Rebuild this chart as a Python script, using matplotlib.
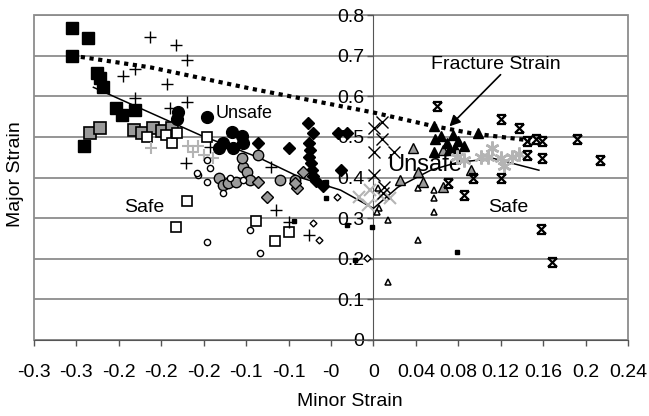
import numpy as np
import matplotlib
matplotlib.use('Agg')
import matplotlib.pyplot as plt
from matplotlib.path import Path
from matplotlib.patches import Rectangle

plt.rcParams['font.family'] = ['Liberation Sans', 'DejaVu Sans']

# tick values and their (Excel-style) labels
x_ticks = [-0.32, -0.28, -0.24, -0.20, -0.16, -0.12, -0.08, -0.04, 0,
           0.04, 0.08, 0.12, 0.16, 0.20, 0.24]
x_tick_labels = ['-0.3', '-0.3', '-0.2', '-0.2', '-0.2', '-0.1', '-0.1', '-0',
                 '0', '0.04', '0.08', '0.12', '0.16', '0.2', '0.24']
y_ticks = [0, 0.1, 0.2, 0.3, 0.4, 0.5, 0.6, 0.7, 0.8]
y_tick_labels = ['0', '0.1', '0.2', '0.3', '0.4', '0.5', '0.6', '0.7', '0.8']

# fracture strain curve (dotted) and forming limit curve (solid)
fracture_x = [-0.284, -0.21, -0.116, 0.0, 0.054, 0.092, 0.148]
fracture_y = [0.700, 0.671, 0.619, 0.560, 0.528, 0.509, 0.491]
flc_x = [-0.264, -0.163, -0.109, -0.069, -0.031, 0.0, 0.023, 0.054, 0.079, 0.113, 0.156]
flc_y = [0.622, 0.504, 0.450, 0.400, 0.369, 0.324, 0.376, 0.418, 0.437, 0.447, 0.418]

# measured strains, one pair of lists per marker type
blk_sq_x = [-0.284, -0.269, -0.284, -0.261, -0.258, -0.255, -0.243, -0.237, -0.225, -0.273]
blk_sq_y = [0.769, 0.744, 0.700, 0.658, 0.644, 0.624, 0.570, 0.553, 0.565, 0.477]
gry_sq_x = [-0.267, -0.258, -0.226, -0.218, -0.208, -0.199, -0.190]
gry_sq_y = [0.509, 0.523, 0.516, 0.509, 0.521, 0.514, 0.523]
wht_sq_x = [-0.213, -0.196, -0.190, -0.185, -0.157, -0.176, -0.186, -0.111, -0.093, -0.080]
wht_sq_y = [0.499, 0.504, 0.486, 0.509, 0.499, 0.342, 0.278, 0.292, 0.243, 0.265]
blk_plus_x = [-0.211, -0.186, -0.176, -0.225, -0.236, -0.195, -0.225, -0.176, -0.192,
              -0.177, -0.154, -0.097, -0.092, -0.080, -0.061]
blk_plus_y = [0.747, 0.725, 0.690, 0.668, 0.649, 0.631, 0.595, 0.585, 0.570,
              0.435, 0.474, 0.425, 0.319, 0.290, 0.258]
gry_plus_x = [-0.210, -0.175, -0.170, -0.165, -0.160, -0.151]
gry_plus_y = [0.472, 0.477, 0.462, 0.477, 0.455, 0.447]
blk_circ_x = [-0.184, -0.185, -0.157, -0.133, -0.124, -0.142, -0.132, -0.146, -0.123]
blk_circ_y = [0.560, 0.545, 0.548, 0.511, 0.501, 0.484, 0.472, 0.472, 0.484]
gry_circ_x = [-0.146, -0.142, -0.137, -0.123, -0.119, -0.116, -0.109, -0.088, -0.074, -0.124, -0.130]
gry_circ_y = [0.398, 0.381, 0.386, 0.425, 0.413, 0.393, 0.455, 0.393, 0.393, 0.447, 0.388]
opn_circ_x = [-0.165, -0.157, -0.154, -0.157, -0.142, -0.135, -0.123, -0.157, -0.116, -0.107, -0.166]
opn_circ_y = [0.405, 0.388, 0.423, 0.442, 0.361, 0.398, 0.393, 0.241, 0.270, 0.214, 0.410]
blk_dia_x = [-0.062, -0.057, -0.080, -0.109, -0.033, -0.025, -0.061, -0.060, -0.061,
             -0.059, -0.058, -0.057, -0.054, -0.048, -0.031]
blk_dia_y = [0.533, 0.509, 0.472, 0.484, 0.509, 0.509, 0.484, 0.467, 0.450,
             0.435, 0.418, 0.403, 0.391, 0.378, 0.418]
gry_dia_x = [-0.100, -0.072, -0.066, -0.109, -0.074]
gry_dia_y = [0.351, 0.373, 0.413, 0.388, 0.386]
opn_dia_x = [-0.034, -0.057, -0.051, -0.006]
opn_dia_y = [0.351, 0.287, 0.246, 0.201]
sml_sq_x = [-0.075, -0.045, -0.025, -0.001, -0.017, 0.079, -0.045]
sml_sq_y = [0.292, 0.349, 0.283, 0.278, 0.197, 0.216, 0.388]
blk_x_x = [0.008, 0.001, 0.008, 0.001, 0.019, 0.001, 0.010, 0.009]
blk_x_y = [0.536, 0.521, 0.496, 0.462, 0.462, 0.405, 0.376, 0.361]
gry_x_x = [-0.014, -0.003, 0.007, 0.016, -0.005]
gry_x_y = [0.351, 0.369, 0.354, 0.349, 0.332]
blk_tri_x = [0.057, 0.099, 0.058, 0.064, 0.069, 0.075, 0.080, 0.085, 0.057, 0.071, 0.077]
blk_tri_y = [0.528, 0.509, 0.494, 0.501, 0.484, 0.504, 0.491, 0.477, 0.462, 0.467, 0.472]
gry_tri_x = [0.037, 0.066, 0.025, 0.042, 0.047, 0.066, 0.092]
gry_tri_y = [0.472, 0.467, 0.393, 0.413, 0.388, 0.376, 0.418]
opn_tri_x = [0.042, 0.057, 0.057, 0.057, 0.014, 0.042, 0.014, 0.005, 0.004, 0.003]
opn_tri_y = [0.373, 0.369, 0.349, 0.314, 0.295, 0.246, 0.143, 0.324, 0.373, 0.314]
blk_star_x = [0.060, 0.120, 0.137, 0.145, 0.153, 0.159, 0.192, 0.145, 0.159, 0.214,
              0.094, 0.120, 0.070, 0.085, 0.158, 0.168]
blk_star_y = [0.577, 0.545, 0.521, 0.491, 0.496, 0.491, 0.496, 0.455, 0.447, 0.442,
              0.400, 0.400, 0.386, 0.356, 0.273, 0.192]
gry_star_x = [0.085, 0.101, 0.112, 0.108, 0.120, 0.123, 0.131, 0.137, 0.079]
gry_star_y = [0.442, 0.450, 0.472, 0.450, 0.447, 0.428, 0.450, 0.457, 0.450]

# hourglass-like star marker (X with caps)
hourglass = Path([(-1, -1), (1, 1), (-1, 1), (1, -1), (-1, 1), (1, 1), (-1, -1), (1, -1)],
                 [Path.MOVETO, Path.LINETO, Path.MOVETO, Path.LINETO,
                  Path.MOVETO, Path.LINETO, Path.MOVETO, Path.LINETO])

GRID = '#8c8c8c'
MID = '#9a9a9a'
LIGHT = '#b4b4b4'

fig = plt.figure(figsize=(6.49, 4.16), dpi=100)
ax = fig.add_axes([34 / 649, 76 / 416, 594 / 649, 325 / 416])

ax.set_xlim(-0.32, 0.24)
ax.set_ylim(0, 0.8)

ax.plot(fracture_x, fracture_y, color='black', lw=3, linestyle=(0, (1, 1.1)), zorder=3)
ax.plot(flc_x, flc_y, color='black', lw=1.1, zorder=3)

def pts(x, y, marker, size, face, edge='black', mew=1.0, z=4):
    ax.plot(x, y, linestyle='none', marker=marker, markersize=size,
            markerfacecolor=face, markeredgecolor=edge, markeredgewidth=mew, zorder=z)

pts(blk_sq_x, blk_sq_y, 's', 9, 'black')
pts(gry_sq_x, gry_sq_y, 's', 8, MID, mew=1.2)
pts(wht_sq_x, wht_sq_y, 's', 7.5, 'white', mew=1.2)
pts(gry_plus_x, gry_plus_y, '+', 9, 'none', edge=LIGHT, mew=1.5)
pts(blk_plus_x, blk_plus_y, '+', 8, 'none', mew=1.0)
pts(gry_circ_x, gry_circ_y, 'o', 7.5, MID, mew=1.0)
pts(opn_circ_x, opn_circ_y, 'o', 4.5, 'white', mew=1.0)
pts(blk_circ_x, blk_circ_y, 'o', 8.5, 'black')
pts(blk_dia_x, blk_dia_y, 'D', 6.5, 'black')
pts(gry_dia_x, gry_dia_y, 'D', 6.5, MID, mew=1.0)
pts(opn_dia_x, opn_dia_y, 'D', 3.5, 'white', mew=1.0)
pts(sml_sq_x, sml_sq_y, 's', 3.5, 'black')
pts(gry_x_x, gry_x_y, 'x', 9, 'none', edge=LIGHT, mew=1.5)
pts(blk_x_x, blk_x_y, 'x', 8.5, 'none', mew=1.0)
pts(opn_tri_x, opn_tri_y, '^', 4.5, 'white', mew=1.1)
pts(gry_tri_x, gry_tri_y, '^', 7.5, MID, mew=1.0)
pts(blk_tri_x, blk_tri_y, '^', 7.5, 'black')
pts(gry_star_x, gry_star_y, (6, 2, 0), 10, 'none', edge=LIGHT, mew=1.8)
pts(blk_star_x, blk_star_y, hourglass, 6.5, 'none', mew=1.6)

# labels inside the plot
ax.text(-0.149, 0.558, 'Unsafe', fontsize=13, ha='left', va='center', zorder=2)
ax.text(0.013, 0.43, 'Unsafe', fontsize=17, ha='left', va='center', zorder=2)
ax.text(-0.216, 0.327, 'Safe', fontsize=14, ha='center', va='center', zorder=2)
ax.text(0.127, 0.327, 'Safe', fontsize=14, ha='center', va='center', zorder=2)
ax.text(0.115, 0.678, 'Fracture Strain', fontsize=14, ha='center', va='center', zorder=5)
ax.annotate('', xy=(0.0698, 0.521), xytext=(0.1217, 0.658),
            arrowprops=dict(arrowstyle='-|>', color='black', lw=1.2, mutation_scale=16),
            zorder=5)

# axes styling: y axis crossing at x = 0, grey plot-area frame
for side in ['top', 'right']:
    ax.spines[side].set_visible(False)
ax.spines['left'].set_position(('data', 0))
ax.spines['left'].set_color('#555555')
ax.spines['left'].set_zorder(1)
ax.spines['bottom'].set_color('#555555')
ax.add_patch(Rectangle((0, 0), 1, 1, transform=ax.transAxes, fill=False,
                       edgecolor=GRID, lw=1.3, zorder=0.5, clip_on=False))

ax.set_xticks(x_ticks)
ax.set_xticklabels(x_tick_labels)
ax.set_yticks(y_ticks)
ax.set_yticklabels(y_tick_labels)
ax.tick_params(axis='x', direction='out', length=4.5, width=1, color='#555555',
               labelsize=14, pad=13)
ax.tick_params(axis='y', direction='out', length=4.5, width=1, color='#555555',
               labelsize=14, pad=2)
ax.grid(axis='y', color=GRID, lw=1.3)
ax.set_axisbelow(True)

fig.text(350 / 649, 1 - 401 / 416, 'Minor Strain', fontsize=14, ha='center', va='center')
fig.text(16 / 649, 1 - 174 / 416, 'Major Strain', fontsize=14, ha='center', va='center',
         rotation=90)

fig.savefig('out.png', dpi=100)
